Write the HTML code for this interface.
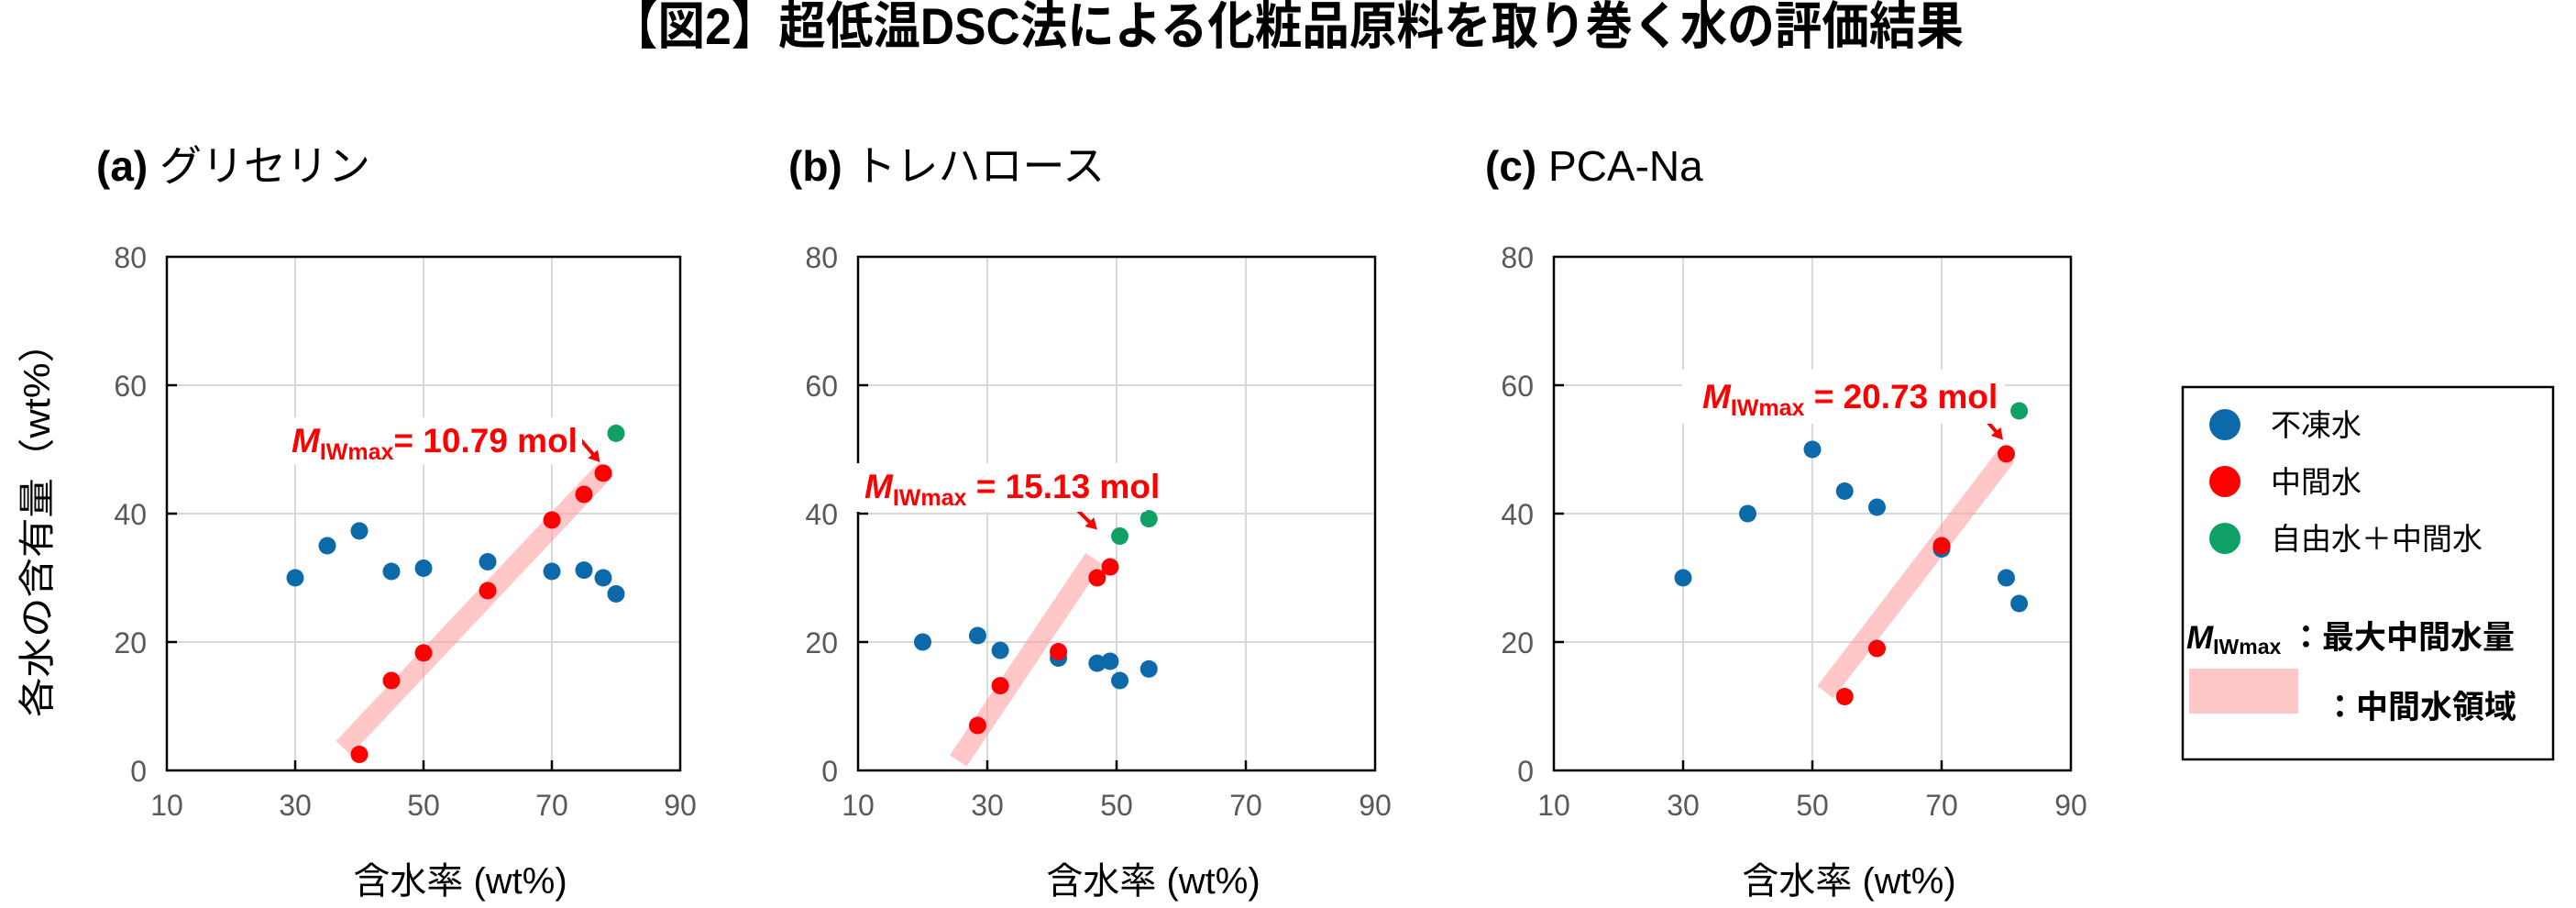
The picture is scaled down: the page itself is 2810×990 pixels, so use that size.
<!DOCTYPE html>
<html><head><meta charset="utf-8"><style>
html,body{margin:0;padding:0;background:#fff;}
svg{display:block;}
text{font-family:"Liberation Sans","Noto Sans CJK JP",sans-serif;}
.tk{fill:#595959;font-size:32px;}
.ax{fill:#000;font-size:40px;}
.pl{font-size:46px;fill:#000;}
.lab{fill:#ff0000;font-weight:bold;font-size:37px;}
</style></head><body>
<svg id="s" width="2810" height="990" viewBox="0 0 2810 990" xmlns="http://www.w3.org/2000/svg">
<rect width="2810" height="990" fill="#fff"/>
<text x="1404" y="48" text-anchor="middle" font-size="56" font-weight="bold" textLength="1476" lengthAdjust="spacingAndGlyphs">【図2】超低温DSC法による化粧品原料を取り巻く水の評価結果</text>

<text class="pl" x="105" y="197"><tspan font-weight="bold">(a)</tspan> グリセリン</text>
<text class="pl" x="860" y="197"><tspan font-weight="bold">(b)</tspan> トレハロース</text>
<text class="pl" x="1620" y="197"><tspan font-weight="bold">(c)</tspan> PCA-Na</text>

<text class="ax" transform="translate(54,567) rotate(-90)" text-anchor="middle" textLength="430" lengthAdjust="spacingAndGlyphs">各水の含有量（wt%）</text>

<g id="panels"></g>

<rect x="305" y="455" width="330" height="52" fill="#fff"/>
<text class="lab" x="318" y="493"><tspan font-style="italic">M</tspan><tspan font-size="25" dy="8">IWmax</tspan><tspan dy="-8">= 10.79 mol</tspan></text>
<rect x="923" y="505" width="327" height="53" fill="#fff"/>
<text class="lab" x="943" y="543"><tspan font-style="italic">M</tspan><tspan font-size="25" dy="8">IWmax</tspan><tspan dy="-8"> = 15.13 mol</tspan></text>
<rect x="1835" y="403" width="352" height="59" fill="#fff"/>
<text class="lab" x="1857" y="445"><tspan font-style="italic">M</tspan><tspan font-size="25" dy="8">IWmax</tspan><tspan dy="-8"> = 20.73 mol</tspan></text>

<rect x="2381" y="422" width="404" height="406" fill="#fff" stroke="#000" stroke-width="2.5"/>
<circle cx="2427" cy="463" r="17" fill="#0c69aa"/>
<circle cx="2427" cy="525" r="17" fill="#ff0000"/>
<circle cx="2427" cy="587" r="17" fill="#0ea064"/>
<text x="2477" y="475" font-size="33">不凍水</text>
<text x="2477" y="537" font-size="33">中間水</text>
<text x="2477" y="599" font-size="33">自由水＋中間水</text>
<text x="2385" y="707" font-size="35" font-weight="bold"><tspan font-style="italic">M</tspan><tspan font-size="23" dy="6">IWmax</tspan><tspan dy="-6"> ：最大中間水量</tspan></text>
<rect x="2388" y="729" width="119" height="49" fill="#ffc8c8"/>
<text x="2535" y="783" font-size="35" font-weight="bold">：中間水領域</text>
</svg>
<script>
(function(){
var NS="http://www.w3.org/2000/svg";
var g=document.getElementById('panels');
function el(n,a,p){var e=document.createElementNS(NS,n);for(var k in a)e.setAttribute(k,a[k]);(p||g).appendChild(e);return e;}
var P=[
 {L:182,R:742,
  blue:[[30,30],[35,35],[40,37.3],[45,31],[50,31.5],[60,32.5],[70,31],[75,31.2],[78,30],[80,27.5]],
  red:[[40,2.5],[45,14],[50,18.3],[60,28],[70,39],[75,43],[78,46.3]],
  green:[[80,52.5]], band:[[37.5,3.5],[78.5,47]], arrow:[[74.5,51.5],[77.5,48]]},
 {L:936,R:1500,
  blue:[[20,20],[28.5,21],[32,18.7],[41,17.5],[47,16.7],[49,17],[50.5,14],[55,15.8]],
  red:[[28.5,7],[32,13.2],[41,18.5],[47,30],[49,31.7]],
  green:[[50.5,36.5],[55,39.2]], band:[[25.5,1.5],[46.5,33]], arrow:[[43.5,41],[47,37.5]]},
 {L:1695,R:2259,
  blue:[[30,30],[40,40],[50,50],[55,43.5],[60,41],[70,34.5],[80,30],[82,26]],
  red:[[55,11.5],[60,19],[70,35],[80,49.3]],
  green:[[82,56]], band:[[52,12.2],[80,49]], arrow:[[76.5,55],[79.5,51.5]]}
];
var T=280,B=840;
P.forEach(function(p){
 var sx=(p.R-p.L)/80;
 function X(v){return p.L+(v-10)*sx;} function Y(v){return B-v*7;}
 [30,50,70].forEach(function(v){el('line',{x1:X(v),x2:X(v),y1:T,y2:B,stroke:'#d9d9d9','stroke-width':2});});
 [20,40,60].forEach(function(v){el('line',{x1:p.L,x2:p.R,y1:Y(v),y2:Y(v),stroke:'#d9d9d9','stroke-width':2});});
 el('rect',{x:p.L,y:T,width:p.R-p.L,height:B-T,fill:'none',stroke:'#000','stroke-width':2.5});
 [20,40,60].forEach(function(v){el('line',{x1:p.L,x2:p.L+11,y1:Y(v),y2:Y(v),stroke:'#000','stroke-width':2.5});});
 [30,50,70].forEach(function(v){el('line',{x1:X(v),x2:X(v),y1:B,y2:B-11,stroke:'#000','stroke-width':2.5});});
 [0,20,40,60,80].forEach(function(v){var t=el('text',{x:p.L-22,y:Y(v)+12,'text-anchor':'end','class':'tk'});t.textContent=v;});
 [10,30,50,70,90].forEach(function(v){var t=el('text',{x:X(v),y:889,'text-anchor':'middle','class':'tk'});t.textContent=v;});
 var t=el('text',{x:(p.L+p.R)/2+40,y:974,'text-anchor':'middle','class':'ax'});t.textContent='含水率 (wt%)';
 el('line',{x1:X(p.band[0][0]),y1:Y(p.band[0][1]),x2:X(p.band[1][0]),y2:Y(p.band[1][1]),stroke:'#ff9999','stroke-opacity':0.55,'stroke-width':22});
 p.blue.forEach(function(d){el('circle',{cx:X(d[0]),cy:Y(d[1]),r:9.5,fill:'#0c69aa'});});
 p.red.forEach(function(d){el('circle',{cx:X(d[0]),cy:Y(d[1]),r:9.5,fill:'#ff0000'});});
 p.green.forEach(function(d){el('circle',{cx:X(d[0]),cy:Y(d[1]),r:9.5,fill:'#0ea064'});});
 var a=p.arrow,x1=X(a[0][0]),y1=Y(a[0][1]),x2=X(a[1][0]),y2=Y(a[1][1]);
 el('line',{x1:x1,y1:y1,x2:x2-(x2-x1)*0.3,y2:y2-(y2-y1)*0.3,stroke:'#ff0000','stroke-width':4});
 var dx=x2-x1,dy=y2-y1,l=Math.sqrt(dx*dx+dy*dy),ux=dx/l,uy=dy/l;
 var bx=x2-ux*12,by=y2-uy*12;
 el('polygon',{points:x2+','+y2+' '+(bx-uy*7)+','+(by+ux*7)+' '+(bx+uy*7)+','+(by-ux*7),fill:'#ff0000'});
});
})();
</script>
</body></html>
